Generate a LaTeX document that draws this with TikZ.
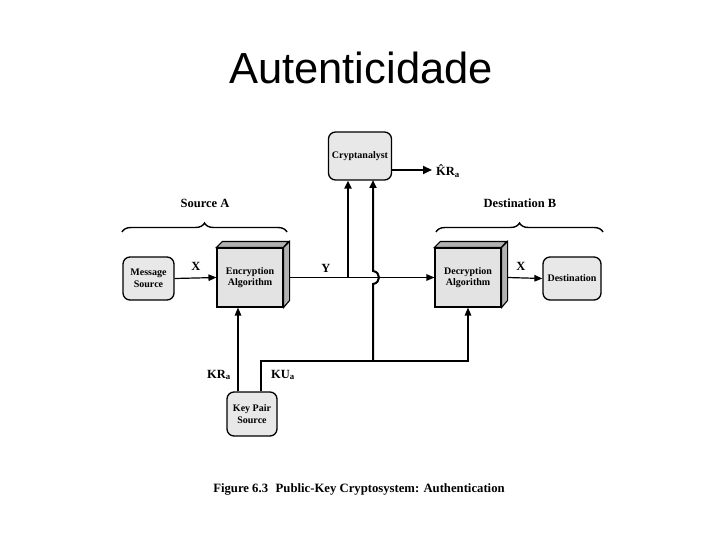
\documentclass[tikz,border=0pt]{standalone}
\usepackage{fontspec}
\setmainfont{Liberation Serif}
\newfontfamily\titlefont{Liberation Sans}
\usetikzlibrary{arrows.meta,decorations.pathreplacing,calc}
\begin{document}
\begin{tikzpicture}[x=1pt,y=-1pt,
  lbl/.style={font=\fontsize{10}{11.5}\selectfont\bfseries, align=center},
  big/.style={font=\fontsize{12.5}{14}\selectfont\bfseries, inner sep=0pt},
  rbox/.style={draw, line width=1.3pt, rounded corners=7pt, fill=gray!18, lbl, inner sep=0pt},
  cbox/.style={draw, line width=1.1pt, fill=gray!22, lbl, inner sep=0pt, minimum width=66pt, minimum height=59pt},
  face/.style={draw, line width=1.1pt, fill=gray!60},
  conn/.style={line width=1.2pt},
  arr/.style={conn, -{Triangle[length=8pt,width=6.5pt]}},
  thickarr/.style={line width=2pt, -{Triangle[length=8pt,width=7pt]}},
  bracestyle/.style={line width=1.4pt, decorate, decoration={brace, amplitude=9pt}},
]
\useasboundingbox (0,0) rectangle (720,540);
\fill[white] (0,0) rectangle (720,540);

% title
\node[font=\titlefont\fontsize{43.5}{48}\selectfont, anchor=base, inner sep=0pt] (title) at (361,84) {Autenticidade};

% boxes
\node[rbox, minimum width=51pt, minimum height=43pt] (msg) at (148.5,278.5) {Message\\Source};
\node[cbox] (enc) at (250,277.5) {Encryption\\Algorithm};
\node[cbox] (dec) at (468,277.5) {Decryption\\Algorithm};
\node[rbox, minimum width=58pt, minimum height=43pt] (dest) at (572,278.5) {Destination};
\node[rbox, minimum width=63pt, minimum height=48pt] (crypt) at (360,156) {Cryptanalyst};
\node[rbox, minimum width=50pt, minimum height=44pt] (key) at (252,414) {Key Pair\\Source};

% 3D faces
\foreach \b in {enc,dec}{
  \draw[face] (\b.north west) -- ++(6,-6) -- ++(66,0) -- (\b.north east) -- cycle;
  \draw[face] (\b.north east) -- ++(6,-6) -- ++(0,59) -- (\b.south east) -- cycle;
}

% braces and labels
\draw[bracestyle] (122,232) -- (287,232);
\draw[bracestyle] (436,232) -- (603,232);
\node[big] (srcA) at (205,203) {Source A};
\node[big] (dstB) at (520,203) {Destination B};

% main flow
\draw[arr] (msg.east) -- (enc.west);
\node[big] (x1) at (196,266) {X};
\draw[arr] ($(enc.east)+(6,0)$) -- (dec.west);
\node[big] (y1) at (326,268) {Y};
\draw[arr] ($(dec.east)+(6,0)$) -- (dest.west);
\node[big] (x2) at (521,266) {X};

% to cryptanalyst
\coordinate (j1) at (348,277.5);
\draw[thickarr] (j1) -- (j1 |- crypt.south);
\coordinate (j2) at (373,361);
\draw[thickarr] (j2) -- (373,284) .. controls (381,283) and (381,272) .. (373,271) -- (373,180);
\coordinate (kr) at (432,170);
\draw[line width=2.4pt, -{Triangle[length=9pt,width=8pt]}] (crypt.east |- kr) -- (kr);
\node[big, anchor=west] (krhat) at (436,171) {\^{K}R\textsubscript{a}};

% key lines
\coordinate (kra) at ($(key.north)+(-14,0)$);
\coordinate (kua) at ($(key.north)+(9,0)$);
\draw[arr] (kra) -- (kra |- enc.south);
\node[big] (lkr) at (219,375) {KR\textsubscript{a}};
\draw[arr] (kua) |- (j2) -| (dec.south);
\node[big] (lku) at (283,375) {KU\textsubscript{a}};

% caption
\node[font=\fontsize{12.7}{14}\selectfont\bfseries, anchor=base, inner sep=0pt] (cap) at (359,492) {Figure 6.3\hspace{0.6em}Public-Key Cryptosystem: Authentication};
\end{tikzpicture}
\end{document}
